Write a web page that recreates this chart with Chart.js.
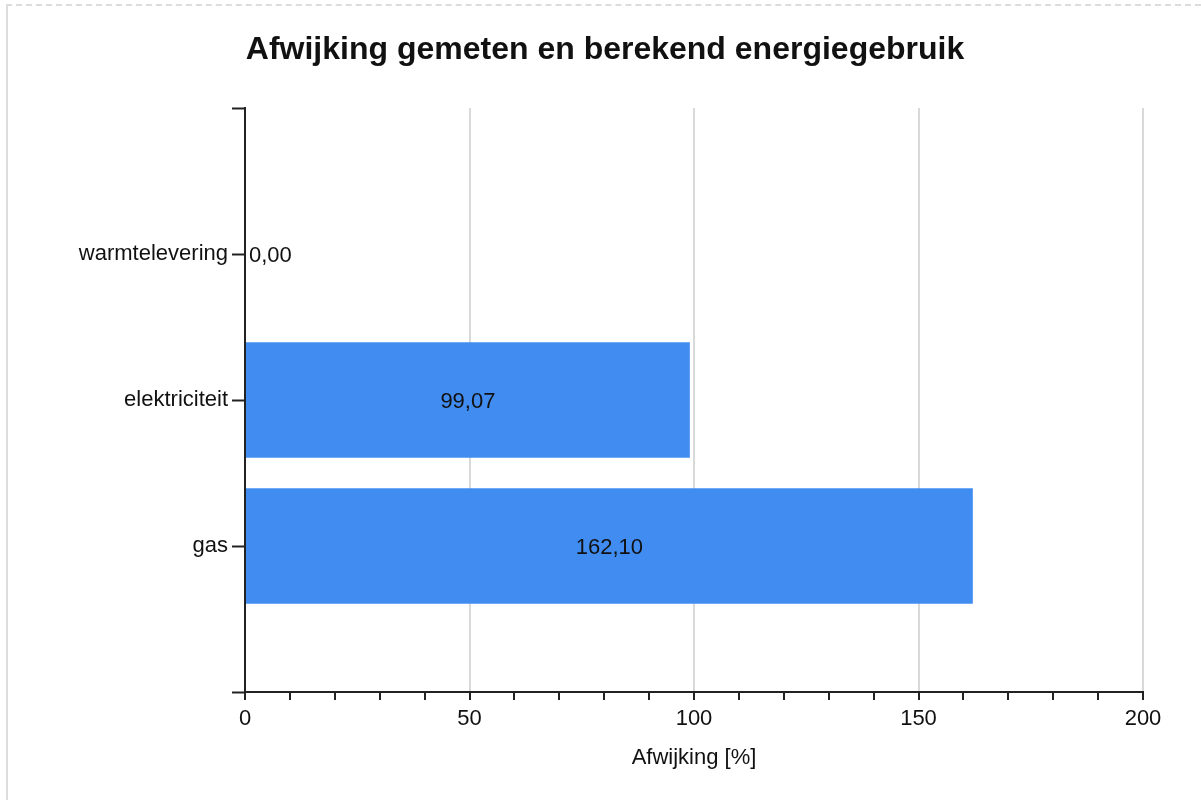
<!DOCTYPE html>
<html>
<head>
<meta charset="utf-8">
<script src="https://cdn.jsdelivr.net/npm/chart.js@4/dist/chart.umd.min.js"></script>
<style>
  html, body { margin: 0; padding: 0; background: #ffffff; }
  #frame {
    position: absolute; left: 6px; top: 4px; width: 1195px; height: 796px;
    border-top: 2px dashed #dcdcdc; border-left: 2px solid #dcdcdc;
    box-sizing: border-box;
  }
  #chart { position: absolute; left: 0; top: 0; }
</style>
</head>
<body>
<div id="frame"></div>
<canvas id="chart" width="1201" height="800"></canvas>
<script>
// Deviation between measured and calculated energy use, per carrier (%)
const categories = ['warmtelevering', 'elektriciteit', 'gas'];
const deviation = [0.00, 99.07, 162.10];
const xTickStep = 10;      // minor tick spacing on the value axis
const xLabelEvery = 50;    // labelled (major) ticks
const xMin = 0;
const xMax = 200;

// Empty slots above and below the three carriers give the axis its end ticks
const labels = [''].concat(categories, ['']);
const values = [null].concat(deviation, [null]);

const FONT = 'Liberation Sans, Arial, sans-serif';
const TEXT = '#111111';

const fmt = v => v.toFixed(2).replace('.', ',');

// Writes each bar's value: centred inside the bar, or just past the base when it does not fit
const valueLabels = {
  id: 'valueLabels',
  afterDatasetsDraw(chart) {
    const ctx = chart.ctx;
    const meta = chart.getDatasetMeta(0);
    ctx.save();
    ctx.font = '22px ' + FONT;
    ctx.fillStyle = TEXT;
    ctx.textBaseline = 'middle';
    meta.data.forEach((bar, i) => {
      const v = values[i];
      if (v === null || v === undefined) return;
      const text = fmt(v);
      const w = ctx.measureText(text).width;
      const len = Math.abs(bar.x - bar.base);
      if (len > w + 8) {
        ctx.textAlign = 'center';
        ctx.fillText(text, (bar.x + bar.base) / 2, bar.y + 2);
      } else {
        ctx.textAlign = 'left';
        ctx.fillText(text, bar.x + 4, bar.y + 2);
      }
    });
    ctx.restore();
  }
};

new Chart(document.getElementById('chart'), {
  type: 'bar',
  data: {
    labels: labels,
    datasets: [{
      data: values,
      backgroundColor: '#418CF0',
      borderWidth: 0,
      barPercentage: 0.79,
      categoryPercentage: 1.0
    }]
  },
  options: {
    indexAxis: 'y',
    responsive: false,
    animation: false,
    devicePixelRatio: 1,
    layout: { padding: { left: 67, right: 58, top: 0, bottom: 0 } },
    plugins: {
      legend: { display: false },
      tooltip: { enabled: false },
      title: {
        display: true,
        text: 'Afwijking gemeten en berekend energiegebruik',
        color: TEXT,
        font: { family: FONT, size: 32, weight: 'bold' },
        padding: { top: 31, bottom: 38.6 }
      }
    },
    scales: {
      y: {
        type: 'category',
        offset: false,
        border: { display: true, color: '#222222', width: 2 },
        grid: {
          offset: false,
          drawOnChartArea: false,
          drawTicks: true,
          tickLength: 13,
          tickColor: '#222222',
          tickWidth: 2
        },
        ticks: {
          color: TEXT,
          font: { family: FONT, size: 22 },
          padding: 4,
          autoSkip: false
        },
        afterFit(scale) {
          scale.width = 178;
          scale.paddingTop = 0;
          scale.paddingBottom = 0;
        }
      },
      x: {
        type: 'linear',
        min: xMin,
        max: xMax,
        border: { display: true, color: '#222222', width: 2 },
        grid: {
          drawOnChartArea: true,
          drawTicks: true,
          tickLength: 8,
          tickWidth: 2,
          tickColor: '#222222',
          lineWidth: 2,
          color: c => (c.tick && c.tick.value !== 0 && c.tick.value % xLabelEvery === 0) ? '#d9d9d9' : 'rgba(0,0,0,0)'
        },
        ticks: {
          stepSize: xTickStep,
          autoSkip: false,
          maxRotation: 0,
          color: TEXT,
          font: { family: FONT, size: 22 },
          padding: 6,
          callback: v => (v % xLabelEvery === 0 ? String(v) : '')
        },
        title: {
          display: true,
          text: 'Afwijking [%]',
          color: TEXT,
          font: { family: FONT, size: 22 },
          padding: { top: 0, bottom: 29 }
        },
        afterFit(scale) {
          scale.height = 108;
          scale.paddingLeft = 0;
          scale.paddingRight = 0;
        }
      }
    }
  },
  plugins: [valueLabels]
});
</script>
</body>
</html>
